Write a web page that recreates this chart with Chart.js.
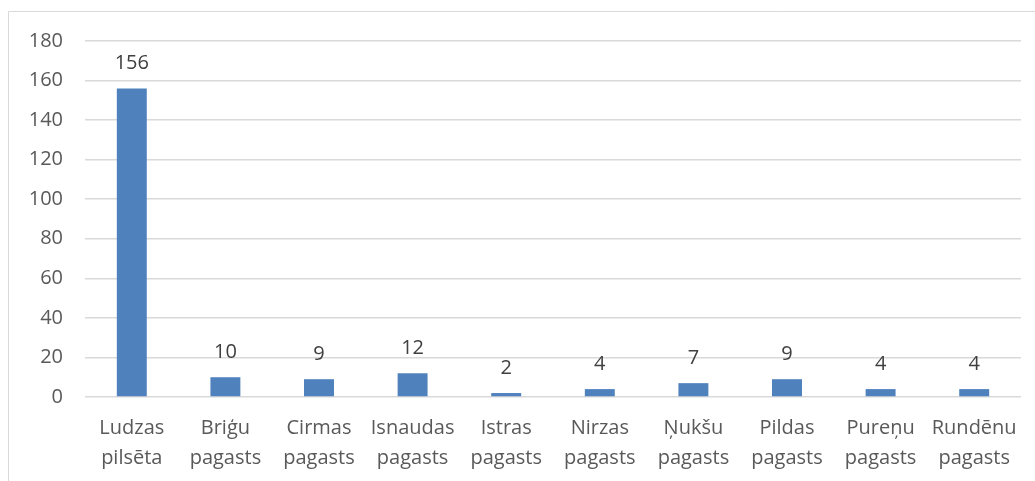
<!DOCTYPE html>
<html>
<head>
<meta charset="utf-8">
<script src="https://cdn.jsdelivr.net/npm/chart.js@4"></script>
<style>
  html, body { margin: 0; padding: 0; background: #fff; }
  #wrap { position: relative; width: 1035px; height: 481px; }
</style>
</head>
<body>
<div id="wrap"><canvas id="chart" width="1035" height="481"></canvas></div>
<script>
const categories = [
  ["Ludzas", "pilsēta"], ["Briģu", "pagasts"], ["Cirmas", "pagasts"],
  ["Isnaudas", "pagasts"], ["Istras", "pagasts"], ["Nirzas", "pagasts"],
  ["Ņukšu", "pagasts"], ["Pildas", "pagasts"], ["Pureņu", "pagasts"],
  ["Rundēnu", "pagasts"]
]
const values = [156, 10, 9, 12, 2, 4, 7, 9, 4, 4]
const yTicks = [0, 20, 40, 60, 80, 100, 120, 140, 160, 180]

const FONT = "'Open Sans', 'Liberation Sans', sans-serif"

// outer frame like the office chart border
const framePlugin = {
  id: "frame",
  beforeDraw(chart) {
    const ctx = chart.ctx
    ctx.save()
    ctx.strokeStyle = "#d9d9d9"
    ctx.lineWidth = 1
    ctx.beginPath()
    ctx.moveTo(8.5, chart.height)
    ctx.lineTo(8.5, 11.5)
    ctx.lineTo(chart.width, 11.5)
    ctx.stroke()
    ctx.restore()
  }
}

// value labels above each bar
const valueLabels = {
  id: "valueLabels",
  afterDatasetsDraw(chart) {
    const ctx = chart.ctx
    const meta = chart.getDatasetMeta(0)
    ctx.save()
    ctx.fillStyle = "#404040"
    ctx.font = "20px " + FONT
    ctx.textAlign = "center"
    ctx.textBaseline = "middle"
    meta.data.forEach((bar, i) => {
      ctx.fillText(String(values[i]), bar.x, bar.y - 25)
    })
    ctx.restore()
  }
}

new Chart("chart", {
  type: "bar",
  data: {
    labels: categories,
    datasets: [{
      data: values,
      backgroundColor: "#4f81bd",
      categoryPercentage: 1,
      barPercentage: 0.32
    }]
  },
  options: {
    responsive: false,
    animation: false,
    events: [],
    layout: { padding: { left: 0, right: 14, top: 41, bottom: 0 } },
    plugins: { legend: { display: false }, tooltip: { enabled: false } },
    scales: {
      x: {
        grid: { display: false, drawTicks: false },
        border: { display: false },
        ticks: {
          color: "#595959",
          font: { family: FONT, size: 20, lineHeight: 1.5 },
          padding: 16,
          maxRotation: 0,
          autoSkip: false
        },
        afterFit(scale) { scale.height = 481 - 397 }
      },
      y: {
        min: 0,
        max: 180,
        afterBuildTicks(scale) { scale.ticks = yTicks.map(v => ({ value: v })) },
        grid: { color: "#d9d9d9", lineWidth: 1.5, drawTicks: false },
        border: { display: false },
        ticks: {
          color: "#595959",
          font: { family: FONT, size: 20 },
          padding: 22
        },
        afterFit(scale) { scale.width = 85 }
      }
    }
  },
  plugins: [framePlugin, valueLabels]
})
</script>
</body>
</html>
